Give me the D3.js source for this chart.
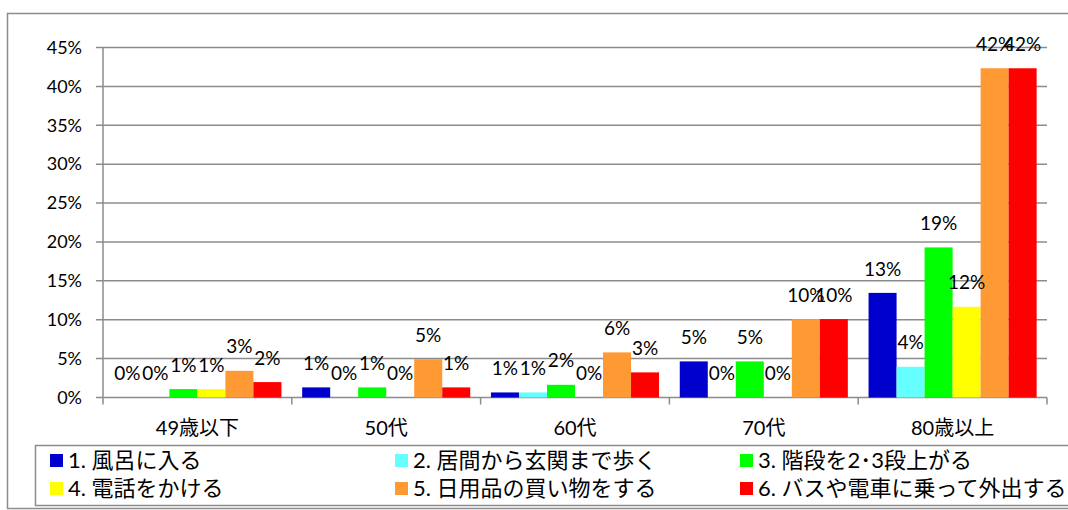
<!DOCTYPE html>
<html>
<head>
<meta charset="utf-8">
<script src="https://cdn.jsdelivr.net/npm/d3@7"></script>
<style>
  body { margin: 0; background: #fff; }
  text { font-family: "Lato", "Noto Sans CJK JP", sans-serif; fill: #000; }
</style>
</head>
<body>
<svg id="chart"></svg>
<script>
// データ
const categories = ["49歳以下", "50代", "60代", "70代", "80歳以上"];
const seriesNames = [
  "1. 風呂に入る",
  "2. 居間から玄関まで歩く",
  "3. 階段を2･3段上がる",
  "4. 電話をかける",
  "5. 日用品の買い物をする",
  "6. バスや電車に乗って外出する"
];
const seriesColors = ["#0000CC", "#66FFFF", "#00FF00", "#FFFF00", "#FF9933", "#FF0000"];

// 各系列の値 (%)
const s1 = [0, 1.3, 0.65, 4.64, 13.45];
const s2 = [0, 0, 0.65, 0, 3.95];
const s3 = [1.08, 1.3, 1.63, 4.64, 19.3];
const s4 = [1.08, 0, 0, 0, 11.66];
const s5 = [3.43, 4.93, 5.8, 10.08, 42.33];
const s6 = [1.98, 1.3, 3.23, 10.08, 42.33];
const seriesValues = [s1, s2, s3, s4, s5, s6];

const yTicks = [0, 5, 10, 15, 20, 25, 30, 35, 40, 45];

const width = 1068, height = 510;
const svg = d3.select("#chart")
  .attr("width", width)
  .attr("height", height);

const gridColor = "#8c8c8c";

// 外枠
svg.append("rect")
  .attr("x", 7.5).attr("y", 13.5)
  .attr("width", 1080).attr("height", 495)
  .attr("fill", "none")
  .attr("stroke", gridColor)
  .attr("stroke-width", 1.5);

// スケール
const x0 = d3.scaleBand()
  .domain(categories)
  .range([103, 1047])
  .padding(0);

const x1 = d3.scaleBand()
  .domain(d3.range(seriesNames.length))
  .range([0, x0.bandwidth()])
  .paddingInner(0)
  .paddingOuter(0.37);

const y = d3.scaleLinear()
  .domain([0, 45])
  .range([397.5, 47.5]);

// 目盛線
svg.append("g")
  .selectAll("line")
  .data(yTicks)
  .enter()
  .append("line")
  .attr("x1", 96)
  .attr("x2", 1047)
  .attr("y1", d => y(d))
  .attr("y2", d => y(d))
  .attr("stroke", gridColor)
  .attr("stroke-width", 1.5);

// Y軸ラベル
svg.append("g")
  .selectAll("text")
  .data(yTicks)
  .enter()
  .append("text")
  .attr("x", 82)
  .attr("y", d => y(d))
  .attr("dy", "0.35em")
  .attr("text-anchor", "end")
  .attr("font-size", "18px")
  .text(d => d + "%");

// Y軸線
svg.append("line")
  .attr("x1", 103).attr("x2", 103)
  .attr("y1", y(45)).attr("y2", y(0))
  .attr("stroke", gridColor)
  .attr("stroke-width", 1.5);

// X軸の区切り目盛
svg.append("g")
  .selectAll("line")
  .data(categories)
  .enter()
  .append("line")
  .attr("x1", d => x0(d) + x0.bandwidth())
  .attr("x2", d => x0(d) + x0.bandwidth())
  .attr("y1", y(0))
  .attr("y2", y(0) + 7)
  .attr("stroke", gridColor)
  .attr("stroke-width", 1.5);
svg.append("line")
  .attr("x1", 103).attr("x2", 103)
  .attr("y1", y(0)).attr("y2", y(0) + 7)
  .attr("stroke", gridColor)
  .attr("stroke-width", 1.5);

// 棒グラフ用データ
const barData = [];
categories.forEach((c, ci) => {
  seriesValues.forEach((vals, si) => {
    barData.push({ cat: c, series: si, value: vals[ci] });
  });
});

svg.append("g")
  .selectAll("rect")
  .data(barData)
  .enter()
  .append("rect")
  .attr("x", d => x0(d.cat) + x1(d.series))
  .attr("y", d => y(d.value))
  .attr("width", x1.bandwidth())
  .attr("height", d => y(0) - y(d.value))
  .attr("fill", d => seriesColors[d.series]);

// データラベル
svg.append("g")
  .selectAll("text")
  .data(barData)
  .enter()
  .append("text")
  .attr("x", d => x0(d.cat) + x1(d.series) + x1.bandwidth() / 2)
  .attr("y", d => y(d.value) - 24)
  .attr("dy", "0.35em")
  .attr("text-anchor", "middle")
  .attr("font-size", "19px")
  .text(d => Math.round(d.value) + "%");

// カテゴリラベル
svg.append("g")
  .selectAll("text")
  .data(categories)
  .enter()
  .append("text")
  .attr("x", d => x0(d) + x0.bandwidth() / 2)
  .attr("y", 428)
  .attr("dy", "0.35em")
  .attr("text-anchor", "middle")
  .attr("font-size", "20px")
  .text(d => d);

// 凡例
svg.append("rect")
  .attr("x", 35.5).attr("y", 445.5)
  .attr("width", 1060).attr("height", 60)
  .attr("fill", "none")
  .attr("stroke", gridColor)
  .attr("stroke-width", 1.5);

const legend = svg.append("g")
  .selectAll("g")
  .data(seriesNames)
  .enter()
  .append("g")
  .attr("transform", (d, i) => `translate(${50 + (i % 3) * 345},${i < 3 ? 460 : 488})`);

legend.append("rect")
  .attr("x", 0).attr("y", -6)
  .attr("width", 13).attr("height", 13)
  .attr("fill", (d, i) => seriesColors[i]);

legend.append("text")
  .attr("x", 18)
  .attr("y", 0)
  .attr("dy", "0.35em")
  .attr("font-size", "22px")
  .text(d => d);
</script>
</body>
</html>
